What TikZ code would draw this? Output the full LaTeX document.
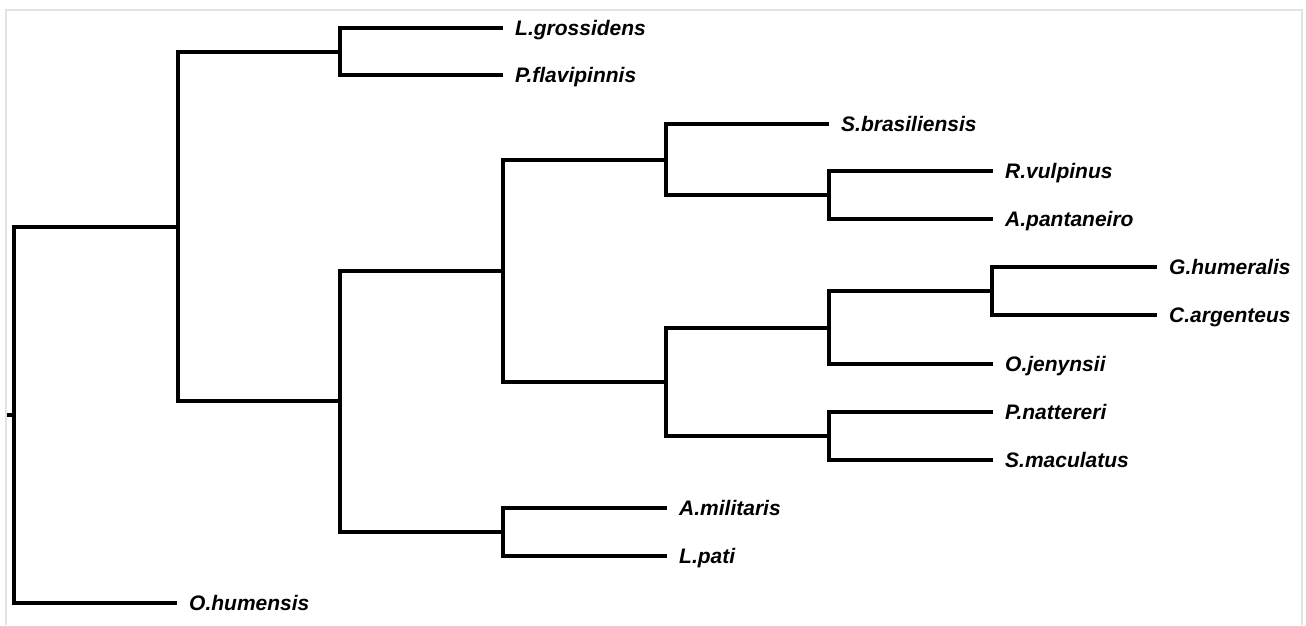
\documentclass[tikz,border=0pt]{standalone}
\usepackage{fontspec}
\setmainfont{Liberation Sans}
\begin{document}
\begin{tikzpicture}[x=1pt,y=-1pt,
  branch/.style={line width=3.4pt,line join=miter},
  taxon/.style={anchor=west,inner xsep=12pt,inner ysep=0pt,text height=15pt,text depth=0pt,
    font=\fontsize{21pt}{23pt}\selectfont\bfseries\itshape},
  frameline/.style={draw=black!11,line width=1.5pt}]
\useasboundingbox (0,0) rectangle (1306,625);
\draw[frameline] (6,625) -- (6,10) -- (1302,10) -- (1302,625);
% internal nodes
\coordinate (r) at (14,415);
\coordinate (tick) at (7,415);
\coordinate (a) at (178,227);
\coordinate (b) at (340,52);
\coordinate (c) at (340,401);
\coordinate (d) at (503,271);
\coordinate (e) at (503,532);
\coordinate (f) at (666,160);
\coordinate (g) at (666,382);
\coordinate (h) at (829,195);
\coordinate (i) at (829,328);
\coordinate (j) at (829,436);
\coordinate (k) at (992,291);
% leaves
\node[taxon] (lg) at (503,28) {L.grossidens};
\node[taxon] (pf) at (503,75) {P.flavipinnis};
\node[taxon] (sb) at (829,124) {S.brasiliensis};
\node[taxon] (rv) at (993,171) {R.vulpinus};
\node[taxon] (ap) at (993,219) {A.pantaneiro};
\node[taxon] (gh) at (1157,267) {G.humeralis};
\node[taxon] (ca) at (1157,315) {C.argenteus};
\node[taxon] (oj) at (993,364) {O.jenynsii};
\node[taxon] (pn) at (993,412) {P.nattereri};
\node[taxon] (sm) at (993,460) {S.maculatus};
\node[taxon] (am) at (667,508) {A.militaris};
\node[taxon] (lp) at (667,556) {L.pati};
\node[taxon] (oh) at (177,603) {O.humensis};
% branches
\draw[branch] (r) -- (tick);
\draw[branch] (r) |- (a);
\draw[branch] (r) |- (oh.west);
\draw[branch] (a) |- (b);
\draw[branch] (a) |- (c);
\draw[branch] (b) |- (lg.west);
\draw[branch] (b) |- (pf.west);
\draw[branch] (c) |- (d);
\draw[branch] (c) |- (e);
\draw[branch] (d) |- (f);
\draw[branch] (d) |- (g);
\draw[branch] (f) |- (sb.west);
\draw[branch] (f) |- (h);
\draw[branch] (h) |- (rv.west);
\draw[branch] (h) |- (ap.west);
\draw[branch] (g) |- (i);
\draw[branch] (g) |- (j);
\draw[branch] (i) |- (k);
\draw[branch] (i) |- (oj.west);
\draw[branch] (k) |- (gh.west);
\draw[branch] (k) |- (ca.west);
\draw[branch] (j) |- (pn.west);
\draw[branch] (j) |- (sm.west);
\draw[branch] (e) |- (am.west);
\draw[branch] (e) |- (lp.west);
\end{tikzpicture}
\end{document}
